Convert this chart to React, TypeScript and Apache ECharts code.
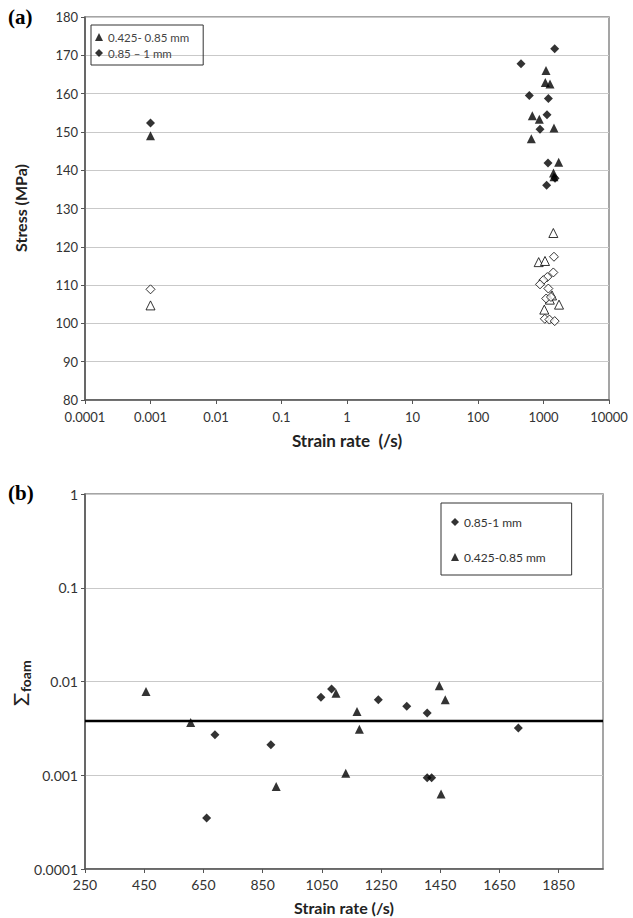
import React, { useEffect, useRef } from "react";
import * as echarts from "echarts";

// ---------- Panel (a): stress vs strain rate ----------
const aLegendFine = "0.425- 0.85 mm";
const aLegendCoarse = "0.85 – 1 mm";
const aFineRate = [0.001, 1092, 1066, 1257, 675, 863, 1445, 652, 1706, 1420, 1445];
const aFineStress = [149.0, 166.0, 162.9, 162.5, 154.2, 153.3, 151.0, 148.2, 142.1, 139.3, 138.3];
const aCoarseRate = [0.001, 1483, 453, 607, 1186, 1130, 885, 1172, 1500, 1117];
const aCoarseStress = [152.3, 171.7, 167.8, 159.5, 158.7, 154.5, 150.7, 141.9, 137.9, 136.1];
const aFineOpenRate = [0.001, 1413, 844, 1054, 1028, 1726, 1350, 1250];
const aFineOpenStress = [104.7, 123.6, 116.0, 116.3, 103.6, 104.9, 107.3, 106.2];
const aCoarseOpenRate = [0.001, 1445, 1413, 1143, 993, 885, 1186, 1100, 1300, 1047, 1231, 1483];
const aCoarseOpenStress = [108.9, 117.4, 113.3, 112.1, 111.3, 110.2, 109.1, 106.5, 106.9, 101.2, 101.0, 100.6];

// ---------- Panel (b): Σfoam vs strain rate ----------
const bLegendCoarse = "0.85-1 mm";
const bLegendFine = "0.425-0.85 mm";
const bCoarseRate = [661, 689, 878, 1047, 1083, 1241, 1337, 1406, 1406, 1421, 1714];
const bCoarseSigma = [0.00035, 0.0027, 0.00211, 0.0068, 0.0083, 0.0064, 0.00545, 0.0046, 0.00094, 0.00094, 0.0032];
const bFineRate = [456, 607, 896, 1098, 1131, 1169, 1177, 1447, 1453, 1467];
const bFineSigma = [0.0078, 0.00365, 0.00076, 0.0075, 0.00105, 0.0048, 0.0031, 0.009, 0.00063, 0.0064];
const bMeanSigma = 0.0038;
const bRateRange = [250, 2000];

const FONT = "Lato, 'Open Sans', sans-serif";
const AXIS = "#555";
const GRIDC = "#c9c9c9";

const zip = (xs: number[], ys: number[]) => xs.map((x, i) => [x, ys[i]]);
const fmt = (v: number) => String(Number(v.toPrecision(6)));

export default function App() {
  const ref = useRef<HTMLDivElement>(null);
  useEffect(() => {
    if (!ref.current) return;
    const chart = echarts.init(ref.current, null, { renderer: "svg" });
    const axisLine = { show: true, onZero: false, lineStyle: { color: AXIS, width: 1.5 } };
    const axisTick = { show: true, inside: false, length: 4, lineStyle: { color: AXIS } };
    const label = { fontFamily: FONT, fontSize: 14, color: "#333" };
    const filled = { color: "#000" };
    const open = { color: "#fff", borderColor: "#000", borderWidth: 1 };
    chart.setOption({
      animation: false,
      backgroundColor: "#fff",
      grid: [
        { left: 85, top: 17, width: 524, height: 383, show: true, borderColor: "#888", borderWidth: 1.5 },
        { left: 85, top: 494, width: 518, height: 375, show: true, borderColor: "#888", borderWidth: 1.5 },
      ],
      xAxis: [
        {
          type: "log", gridIndex: 0, logBase: 10, min: 0.0001, max: 10000,
          axisLine, axisTick, splitLine: { show: false },
          axisLabel: { ...label, fontSize: 13, margin: 10, formatter: fmt },
        },
        {
          type: "value", gridIndex: 1, min: 250, max: 2000, interval: 200,
          axisLine, axisTick, splitLine: { show: false },
          axisLabel: { ...label, margin: 8, showMaxLabel: false, formatter: (v: number) => String(v) },
        },
      ],
      yAxis: [
        {
          type: "value", gridIndex: 0, min: 80, max: 180, interval: 10,
          axisLine, axisTick, splitLine: { show: true, lineStyle: { color: GRIDC, width: 1 } },
          axisLabel: { ...label, fontSize: 13, margin: 7 },
        },
        {
          type: "log", gridIndex: 1, logBase: 10, min: 0.0001, max: 1,
          axisLine, axisTick, splitLine: { show: true, lineStyle: { color: GRIDC, width: 1 } },
          axisLabel: { ...label, margin: 7, formatter: fmt },
        },
      ],
      legend: [
        {
          left: 91, top: 25, orient: "vertical", itemWidth: 8, itemHeight: 8, itemGap: 4,
          padding: [6, 14, 6, 4], borderColor: "#333", borderWidth: 1,
          textStyle: { fontFamily: FONT, fontSize: 11.5, color: "#444" },
          data: [
            { name: aLegendFine, icon: "triangle" },
            { name: aLegendCoarse, icon: "diamond" },
          ],
        },
        {
          left: 441, top: 503, orient: "vertical", itemWidth: 8, itemHeight: 8, itemGap: 23,
          padding: [13, 26, 12, 10], borderColor: "#333", borderWidth: 1,
          textStyle: { fontFamily: FONT, fontSize: 12, color: "#333" },
          data: [
            { name: bLegendCoarse, icon: "diamond" },
            { name: bLegendFine, icon: "triangle" },
          ],
        },
      ],
      graphic: [
        { type: "text", left: 8, top: 6, style: { text: "(a)", font: "bold 21px 'Liberation Serif', 'Times New Roman', serif", fill: "#000" } },
        { type: "text", left: 8, top: 482, style: { text: "(b)", font: "bold 21px 'Liberation Serif', 'Times New Roman', serif", fill: "#000" } },
        {
          type: "text", x: 20, y: 208, rotation: Math.PI / 2,
          style: { text: "Stress (MPa)", font: `bold 16px ${FONT}`, fill: "#222", textAlign: "center", textVerticalAlign: "middle" },
        },
        {
          type: "text", x: 347, y: 440,
          style: { text: "Strain rate  (/s)", font: `bold 17px ${FONT}`, fill: "#222", textAlign: "center", textVerticalAlign: "middle" },
        },
        {
          type: "text", x: 344, y: 907,
          style: { text: "Strain rate (/s)", font: `bold 16px ${FONT}`, fill: "#222", textAlign: "center", textVerticalAlign: "middle" },
        },
        {
          type: "group", x: 20, y: 681, rotation: Math.PI / 2,
          children: [
            { type: "text", x: -25, y: 0, style: { text: "Σ", font: `22px ${FONT}`, fill: "#222", textAlign: "left", textVerticalAlign: "middle" } },
            { type: "text", x: -11, y: 5, style: { text: "foam", font: `bold 14px ${FONT}`, fill: "#222", textAlign: "left", textVerticalAlign: "middle" } },
          ],
        },
      ],
      series: [
        { name: aLegendFine, type: "scatter", xAxisIndex: 0, yAxisIndex: 0, symbol: "triangle", symbolSize: 9, itemStyle: filled, data: zip(aFineRate, aFineStress) },
        { name: aLegendCoarse, type: "scatter", xAxisIndex: 0, yAxisIndex: 0, symbol: "diamond", symbolSize: 9, itemStyle: filled, data: zip(aCoarseRate, aCoarseStress) },
        { name: "open-fine", type: "scatter", xAxisIndex: 0, yAxisIndex: 0, symbol: "triangle", symbolSize: 9, itemStyle: open, data: zip(aFineOpenRate, aFineOpenStress) },
        { name: "open-coarse", type: "scatter", xAxisIndex: 0, yAxisIndex: 0, symbol: "diamond", symbolSize: 9, itemStyle: open, data: zip(aCoarseOpenRate, aCoarseOpenStress) },
        {
          name: "mean", type: "line", xAxisIndex: 1, yAxisIndex: 1, symbol: "none", silent: true,
          lineStyle: { color: "#000", width: 2.5 },
          data: bRateRange.map((r) => [r, bMeanSigma]),
        },
        { name: bLegendCoarse, type: "scatter", xAxisIndex: 1, yAxisIndex: 1, symbol: "diamond", symbolSize: 9, itemStyle: filled, data: zip(bCoarseRate, bCoarseSigma) },
        { name: bLegendFine, type: "scatter", xAxisIndex: 1, yAxisIndex: 1, symbol: "triangle", symbolSize: 9, itemStyle: filled, data: zip(bFineRate, bFineSigma) },
      ],
    });
    return () => chart.dispose();
  }, []);
  return <div ref={ref} style={{ position: "absolute", left: 0, top: 0, width: 633, height: 918 }} />;
}
